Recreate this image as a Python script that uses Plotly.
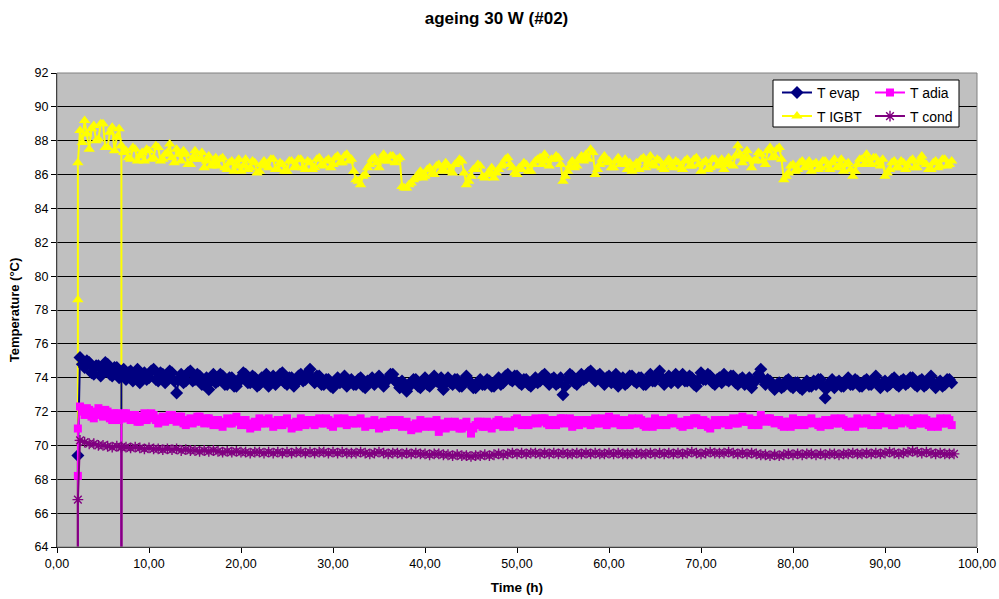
import plotly.graph_objects as go

# Logged readings: evap / adia / IGBT every 0.25 h from 2.5 h (20 readings = 5 h per row)
FAST_START_H = 2.5
FAST_STEP_H = 0.25

t_evap = [
    75.2, 74.8, 74.6, 75.0, 74.9, 74.3, 74.2, 74.7, 74.7, 74.1, 74.4, 74.9, 74.8, 74.2, 74.1, 74.6, 74.6, 74.0, 74.3, 74.5,
    73.9, 74.3, 74.4, 73.8, 74.1, 74.5, 73.7, 74.0, 74.3, 73.9, 74.0, 74.4, 74.5, 73.9, 73.8, 74.3, 74.2, 73.7, 74.0, 74.4,
    74.3, 73.8, 73.1, 73.9, 74.2, 73.7, 73.8, 74.3, 74.4, 73.8, 73.9, 74.2, 74.1, 73.6, 73.6, 74.0, 73.3, 73.8, 74.2, 73.7,
    73.8, 74.2, 74.1, 73.6, 73.6, 74.0, 74.0, 73.5, 73.5, 73.9, 73.9, 74.3, 74.2, 73.7, 73.7, 74.1, 74.0, 73.5, 73.6, 74.0,
    73.9, 74.2, 73.5, 73.8, 74.1, 73.6, 73.8, 74.2, 74.3, 73.7, 73.6, 74.0, 74.0, 73.5, 73.7, 74.1, 74.2, 73.8, 73.9, 74.3,
    74.5, 73.9, 73.7, 74.1, 74.1, 73.6, 73.6, 73.9, 73.9, 73.5, 73.4, 73.8, 74.0, 73.7, 73.8, 74.1, 73.5, 73.8, 73.9, 73.6,
    73.6, 73.9, 74.0, 73.5, 73.4, 73.8, 73.8, 74.0, 73.6, 73.9, 74.1, 73.7, 73.5, 73.8, 73.9, 74.2, 74.2, 73.8, 73.7, 73.4,
    73.8, 73.5, 73.2, 73.6, 73.6, 73.9, 73.9, 73.5, 73.4, 73.8, 74.0, 73.6, 73.5, 73.9, 74.1, 73.8, 73.7, 74.0, 73.3, 73.7,
    74.0, 73.7, 73.6, 73.9, 73.9, 73.5, 73.5, 73.8, 74.1, 73.8, 73.7, 73.4, 73.4, 73.7, 73.9, 73.6, 73.6, 73.9, 73.8, 73.5,
    73.5, 73.8, 74.0, 73.6, 73.7, 74.1, 74.2, 73.9, 73.8, 74.1, 74.1, 73.7, 73.6, 73.9, 73.9, 73.6, 73.5, 73.8, 74.0, 73.7,
    73.8, 74.1, 74.2, 73.8, 73.6, 73.9, 74.0, 73.6, 73.7, 74.0, 73.0, 73.5, 73.9, 74.2, 74.1, 73.7, 73.6, 74.0, 74.2, 73.9,
    74.0, 74.3, 74.4, 74.0, 73.8, 74.1, 74.2, 73.8, 73.6, 74.0, 74.1, 73.7, 73.9, 74.2, 73.5, 73.8, 74.0, 73.6, 73.7, 74.1,
    74.1, 73.8, 73.7, 74.0, 74.0, 73.6, 73.6, 73.9, 74.2, 73.8, 73.8, 74.1, 74.4, 74.0, 73.6, 73.9, 74.1, 73.7, 73.9, 74.2,
    73.7, 74.0, 74.2, 73.8, 73.8, 74.1, 74.0, 73.6, 73.5, 73.9, 74.3, 73.9, 73.9, 74.2, 74.1, 73.7, 73.6, 73.9, 74.0, 73.7,
    74.2, 73.9, 73.8, 74.1, 74.1, 73.7, 73.6, 73.9, 74.0, 73.6, 73.7, 74.0, 73.4, 73.7, 73.9, 74.2, 74.5, 73.9, 73.6, 73.9,
    73.8, 73.5, 73.3, 73.6, 73.7, 73.4, 73.5, 73.8, 73.9, 73.5, 73.4, 73.7, 73.7, 73.4, 73.3, 73.6, 73.8, 73.5, 73.5, 73.8,
    73.6, 73.9, 73.9, 73.5, 72.8, 73.4, 73.7, 73.9, 73.4, 73.7, 73.8, 73.5, 73.5, 73.8, 74.0, 73.6, 73.6, 73.9, 73.8, 73.5,
    73.5, 73.8, 73.9, 73.6, 73.6, 73.9, 74.1, 73.7, 73.4, 73.7, 73.8, 73.5, 73.6, 73.9, 74.0, 73.6, 73.5, 73.8, 73.9, 73.6,
    73.7, 74.0, 74.0, 73.6, 73.5, 73.8, 73.9, 73.5, 73.6, 73.9, 74.1, 73.7, 73.4, 73.7, 73.8, 73.5, 73.6, 73.9, 73.9, 73.7,
]

t_adia = [
    72.3, 72.0, 71.8, 72.2, 72.1, 71.7, 71.6, 72.0, 72.2, 71.8, 71.7, 72.1, 72.0, 71.6, 71.5, 71.9, 71.9, 71.5, 71.6, 71.9,
    71.9, 71.6, 71.5, 71.8, 71.8, 71.4, 71.4, 71.7, 71.9, 71.5, 71.6, 71.9, 71.8, 71.5, 71.3, 71.6, 71.7, 71.4, 71.5, 71.8,
    71.8, 71.5, 71.4, 71.7, 71.7, 71.3, 71.2, 71.5, 71.6, 71.3, 71.4, 71.7, 71.7, 71.4, 71.3, 71.6, 71.6, 71.3, 71.2, 71.5,
    71.5, 71.2, 71.1, 71.4, 71.6, 71.3, 71.3, 71.6, 71.7, 71.4, 71.2, 71.5, 71.5, 71.2, 71.0, 71.3, 71.4, 71.1, 71.6, 71.3,
    71.3, 71.5, 71.6, 71.3, 71.1, 71.4, 71.5, 71.2, 71.2, 71.5, 71.6, 71.3, 71.0, 71.3, 71.4, 71.1, 71.6, 71.4, 71.2, 71.5,
    71.5, 71.3, 71.2, 71.5, 71.6, 71.3, 71.3, 71.6, 71.5, 71.2, 71.1, 71.4, 71.6, 71.3, 71.4, 71.6, 71.2, 71.4, 71.5, 71.3,
    71.3, 71.5, 71.6, 71.3, 71.1, 71.4, 71.4, 71.2, 71.5, 71.3, 71.0, 71.3, 71.4, 71.1, 71.2, 71.5, 71.5, 71.2, 71.3, 71.5,
    71.1, 71.3, 71.4, 71.1, 70.9, 71.2, 71.3, 71.0, 71.5, 71.2, 71.1, 71.4, 71.4, 71.1, 71.2, 71.5, 70.8, 71.1, 71.3, 71.0,
    71.4, 71.2, 71.1, 71.4, 71.3, 71.0, 71.0, 71.3, 71.4, 71.1, 70.7, 71.0, 71.2, 71.4, 71.4, 71.1, 71.1, 71.4, 71.3, 71.0,
    71.2, 71.4, 71.5, 71.2, 71.1, 71.4, 71.4, 71.1, 71.3, 71.5, 71.6, 71.3, 71.2, 71.5, 71.5, 71.2, 71.3, 71.5, 71.6, 71.3,
    71.4, 71.6, 71.6, 71.3, 71.2, 71.5, 71.5, 71.2, 71.3, 71.6, 71.6, 71.3, 71.4, 71.6, 71.1, 71.4, 71.5, 71.2, 71.3, 71.5,
    71.5, 71.3, 71.2, 71.5, 71.6, 71.3, 71.3, 71.6, 71.5, 71.2, 71.7, 71.4, 71.3, 71.6, 71.5, 71.2, 71.2, 71.5, 71.4, 71.2,
    71.6, 71.3, 71.3, 71.6, 71.5, 71.2, 71.1, 71.4, 71.4, 71.1, 71.6, 71.4, 71.2, 71.5, 71.5, 71.2, 71.3, 71.6, 71.6, 71.3,
    71.4, 71.2, 71.1, 71.4, 71.5, 71.2, 71.3, 71.6, 71.6, 71.3, 71.2, 71.5, 71.4, 71.1, 71.0, 71.3, 71.5, 71.2, 71.3, 71.5,
    71.5, 71.3, 71.2, 71.5, 71.6, 71.3, 71.3, 71.6, 71.7, 71.4, 71.4, 71.6, 71.2, 71.5, 71.5, 71.2, 71.8, 71.5, 71.4, 71.6,
    71.6, 71.4, 71.3, 71.5, 71.5, 71.2, 71.1, 71.4, 71.4, 71.1, 71.6, 71.3, 71.2, 71.5, 71.5, 71.2, 71.3, 71.5, 71.6, 71.3,
    71.4, 71.2, 71.1, 71.4, 71.5, 71.2, 71.2, 71.5, 71.6, 71.3, 71.3, 71.6, 71.5, 71.2, 71.1, 71.4, 71.4, 71.1, 71.6, 71.3,
    71.3, 71.5, 71.6, 71.3, 71.2, 71.5, 71.5, 71.2, 71.7, 71.4, 71.3, 71.6, 71.5, 71.2, 71.2, 71.5, 71.6, 71.3, 71.4, 71.6,
    71.5, 71.3, 71.2, 71.5, 71.6, 71.3, 71.3, 71.6, 71.5, 71.2, 71.1, 71.4, 71.4, 71.1, 71.6, 71.3, 71.3, 71.6, 71.5, 71.2,
]

t_igbt = [
    88.6, 87.9, 89.2, 88.4, 87.5, 88.7, 88.9, 88.0, 88.1, 89.0, 89.0, 87.6, 87.6, 88.5, 88.8, 87.4, 88.2, 88.7, 87.7, 87.3,
    87.4, 87.0, 86.9, 87.6, 87.5, 86.8, 87.1, 87.3, 86.8, 87.5, 87.4, 86.9, 87.0, 87.7, 87.6, 86.8, 86.9, 87.2, 87.3, 87.8,
    87.0, 86.7, 87.5, 87.2, 86.8, 87.4, 87.2, 86.6, 86.6, 87.0, 87.4, 86.9, 86.9, 87.3, 86.4, 86.8, 87.1, 86.5, 86.7, 87.0,
    86.5, 86.9, 87.0, 86.4, 86.3, 86.7, 86.8, 86.2, 86.5, 86.9, 86.2, 86.5, 86.9, 86.3, 86.4, 86.8, 86.7, 86.1, 86.2, 86.6,
    86.8, 86.5, 86.4, 86.9, 86.9, 86.3, 86.3, 86.7, 86.6, 86.2, 86.2, 86.8, 86.8, 86.4, 86.5, 86.9, 86.9, 86.4, 86.3, 86.8,
    86.7, 86.3, 86.4, 86.9, 87.0, 86.6, 86.5, 86.8, 86.9, 86.4, 86.6, 87.0, 87.1, 86.7, 86.7, 87.1, 87.2, 86.8, 86.9, 86.2,
    85.7, 85.6, 85.4, 85.9, 86.0, 86.4, 86.6, 86.9, 87.0, 86.7, 86.4, 86.9, 87.2, 86.8, 86.8, 87.1, 87.1, 86.7, 86.9, 87.0,
    85.3, 85.2, 85.2, 85.4, 85.5, 85.7, 85.8, 86.0, 86.2, 85.8, 85.9, 86.3, 86.4, 86.1, 86.0, 86.5, 86.6, 86.2, 86.3, 86.7,
    86.5, 86.2, 86.1, 86.6, 86.7, 86.9, 86.8, 86.1, 85.4, 85.6, 85.9, 86.3, 86.3, 86.6, 86.5, 85.9, 85.8, 86.0, 86.1, 86.4,
    85.8, 86.1, 86.3, 86.5, 86.6, 86.9, 87.0, 86.6, 86.4, 86.1, 86.0, 86.4, 86.3, 86.7, 86.6, 86.2, 86.2, 86.6, 86.8, 86.9,
    87.0, 86.6, 87.2, 86.8, 86.5, 86.9, 86.9, 87.1, 87.0, 86.6, 85.6, 85.9, 86.2, 86.5, 86.8, 86.4, 86.5, 86.9, 87.1, 86.8,
    87.2, 86.9, 87.5, 87.3, 86.0, 86.3, 86.6, 86.9, 87.1, 86.7, 86.8, 86.4, 86.4, 86.8, 87.0, 86.6, 86.6, 86.9, 86.3, 86.7,
    86.2, 86.5, 86.7, 86.3, 86.9, 87.0, 86.4, 86.7, 87.1, 86.6, 86.5, 86.9, 86.8, 86.4, 86.3, 86.7, 86.9, 86.5, 86.4, 86.8,
    86.7, 86.4, 86.3, 86.8, 86.9, 86.5, 86.5, 86.9, 87.0, 86.6, 86.2, 86.7, 86.8, 86.3, 86.4, 86.9, 86.9, 86.5, 86.6, 86.9,
    86.3, 86.7, 87.0, 86.6, 86.5, 87.1, 87.7, 87.2, 86.7, 87.0, 87.4, 86.9, 86.4, 86.8, 86.9, 87.3, 87.2, 86.8, 86.6, 87.4,
    87.6, 87.0, 87.1, 87.5, 87.6, 86.9, 85.7, 85.9, 86.1, 86.5, 86.6, 86.2, 86.3, 86.7, 86.8, 86.4, 86.5, 86.8, 86.2, 86.6,
    86.7, 86.3, 86.4, 86.8, 86.8, 86.5, 86.3, 86.7, 86.9, 86.4, 86.5, 86.9, 86.2, 86.6, 86.7, 86.3, 85.9, 86.2, 86.6, 86.9,
    86.9, 86.6, 87.2, 86.8, 86.6, 87.0, 87.0, 86.7, 86.5, 86.9, 85.9, 86.1, 86.3, 86.7, 86.8, 86.4, 86.4, 86.8, 86.7, 86.3,
    86.5, 86.8, 86.9, 86.4, 86.4, 86.8, 87.1, 86.7, 86.6, 86.3, 86.3, 86.7, 86.8, 86.4, 86.5, 86.9, 86.9, 86.5, 86.6, 86.8,
]

# Condenser readings every 0.5 h from 2.5 h (10 readings = 5 h per row)
COND_START_H = 2.5
COND_STEP_H = 0.5

t_cond = [
    70.3, 70.2, 70.1, 70.1, 70.0, 70.0, 69.95, 69.9, 69.95, 69.9,
    69.9, 69.85, 69.9, 69.85, 69.8, 69.85, 69.8, 69.8, 69.75, 69.8,
    69.75, 69.8, 69.7, 69.75, 69.7, 69.7, 69.65, 69.7, 69.65, 69.7,
    69.65, 69.6, 69.65, 69.6, 69.65, 69.6, 69.6, 69.55, 69.6, 69.6,
    69.55, 69.6, 69.55, 69.6, 69.55, 69.6, 69.55, 69.6, 69.6, 69.55,
    69.6, 69.55, 69.6, 69.6, 69.55, 69.6, 69.55, 69.6, 69.55, 69.55,
    69.55, 69.6, 69.55, 69.5, 69.55, 69.6, 69.55, 69.5, 69.55, 69.55,
    69.5, 69.55, 69.5, 69.55, 69.5, 69.5, 69.45, 69.5, 69.5, 69.45,
    69.45, 69.4, 69.45, 69.4, 69.4, 69.35, 69.4, 69.4, 69.45, 69.4,
    69.45, 69.5, 69.45, 69.5, 69.55, 69.5, 69.55, 69.5, 69.55, 69.55,
    69.5, 69.55, 69.5, 69.55, 69.5, 69.55, 69.5, 69.5, 69.55, 69.5,
    69.55, 69.5, 69.55, 69.5, 69.5, 69.55, 69.5, 69.55, 69.5, 69.5,
    69.5, 69.55, 69.5, 69.5, 69.55, 69.5, 69.55, 69.5, 69.55, 69.5,
    69.55, 69.5, 69.55, 69.6, 69.55, 69.5, 69.55, 69.6, 69.55, 69.55,
    69.55, 69.6, 69.55, 69.5, 69.55, 69.5, 69.55, 69.5, 69.45, 69.45,
    69.4, 69.45, 69.4, 69.45, 69.5, 69.45, 69.5, 69.45, 69.5, 69.5,
    69.45, 69.5, 69.45, 69.5, 69.5, 69.45, 69.5, 69.5, 69.55, 69.5,
    69.5, 69.55, 69.5, 69.55, 69.5, 69.55, 69.6, 69.55, 69.5, 69.55,
    69.6, 69.65, 69.6, 69.55, 69.6, 69.55, 69.5, 69.55, 69.5, 69.5, 69.5,
]

# Start-up readings (logger switched on at 2.27 h, first sample reads 0)
STARTUP_H = 2.27
startup_evap = [0.0, 69.4]
startup_adia = [0.0, 68.2, 71.0]
startup_igbt = [0.0, 78.6, 86.7]
startup_cond = [0.0, 66.8]

# Logger reset at 7.0 h: one zero reading on every channel
RESET_H = 7.0
RESET_VALUE = 0.0

tick_labels_x = [0, 10, 20, 30, 40, 50, 60, 70, 80, 90, 100]


def build_series(startup, readings, start_h, step_h):
    times = [STARTUP_H] * len(startup)
    values = list(startup)
    for i, v in enumerate(readings):
        t = round(start_h + step_h * i, 3)
        times.append(t)
        values.append(v)
        if abs(t - RESET_H) < 1e-9:
            times += [t, t]
            values += [RESET_VALUE, v]
    return times, values


FONT = "Liberation Sans, Arial, sans-serif"

series = [
    # name, startup, readings, start, step, colour, symbol, size, legend
    ("T IGBT", startup_igbt, t_igbt, FAST_START_H, FAST_STEP_H, "#FFFF00", "triangle-up", 10, "legend2"),
    ("T evap", startup_evap, t_evap, FAST_START_H, FAST_STEP_H, "#000080", "diamond", 10, "legend"),
    ("T adia", startup_adia, t_adia, FAST_START_H, FAST_STEP_H, "#FF00FF", "square", 8, "legend"),
    ("T cond", startup_cond, t_cond, COND_START_H, COND_STEP_H, "#800080", "asterisk-open", 9, "legend2"),
]

fig = go.Figure()
for name, start, readings, t0, dt, colour, symbol, size, leg in series:
    x, y = build_series(start, readings, t0, dt)
    marker = dict(symbol=symbol, size=size, color=colour)
    if symbol.endswith("open"):
        marker["line"] = dict(color=colour, width=1.4)
    else:
        marker["line"] = dict(width=0)
    fig.add_trace(go.Scatter(
        x=x, y=y, name=name, mode="lines+markers",
        line=dict(color=colour, width=2),
        marker=marker, legend=leg,
    ))

legend_common = dict(
    orientation="h", xanchor="left", yanchor="top",
    bgcolor="rgba(0,0,0,0)", borderwidth=0,
    font=dict(family=FONT, size=14, color="#000000"),
    entrywidthmode="pixels", entrywidth=48,
    itemclick=False, itemdoubleclick=False,
)

fig.update_layout(
    width=999, height=599,
    margin=dict(l=57, r=22, t=73, b=52, autoexpand=False),
    paper_bgcolor="#FFFFFF",
    plot_bgcolor="#C0C0C0",
    separators=", ",
    font=dict(family=FONT, size=12, color="#000000"),
    title=dict(
        text="<b>ageing 30 W (#02)</b>",
        x=0.497, xref="container", xanchor="center",
        y=1 - 18 / 599, yref="container", yanchor="middle",
        font=dict(family=FONT, size=17, color="#000000"),
    ),
    xaxis=dict(
        range=[0, 100], tickvals=tick_labels_x, tickformat=".2f",
        showgrid=False, zeroline=False, automargin=False,
        ticks="outside", ticklen=5, tickcolor="#000000",
        showline=True, linecolor="#000000", linewidth=1,
        tickfont=dict(family=FONT, size=12.5),
        title=dict(text="<b>Time (h)</b>", standoff=12,
                   font=dict(family=FONT, size=13.5)),
    ),
    yaxis=dict(
        range=[64, 92], dtick=2, tick0=64,
        showgrid=True, gridcolor="#000000", gridwidth=1,
        zeroline=False, automargin=False,
        ticks="outside", ticklen=5, tickcolor="#000000",
        showline=True, linecolor="#000000", linewidth=1,
        tickfont=dict(family=FONT, size=12.5),
        title=dict(text="<b>Temperature (°C)</b>", standoff=12,
                   font=dict(family=FONT, size=13)),
    ),
    legend=dict(x=0.7826, y=0.992, **legend_common),
    legend2=dict(x=0.7826, y=0.942, **legend_common),
    shapes=[
        # plot-area frame
        dict(type="rect", xref="paper", yref="paper", x0=0, x1=1, y0=0, y1=1,
             line=dict(color="#808080", width=1), fillcolor="rgba(0,0,0,0)",
             layer="above"),
        # legend box
        dict(type="rect", xref="paper", yref="paper",
             x0=(773 - 57) / 920, x1=(959 - 57) / 920,
             y0=(547 - 127) / 474, y1=(547 - 80) / 474,
             line=dict(color="#000000", width=1), fillcolor="#FFFFFF",
             layer="above"),
    ],
    showlegend=True,
)

fig.write_html("out.html")
